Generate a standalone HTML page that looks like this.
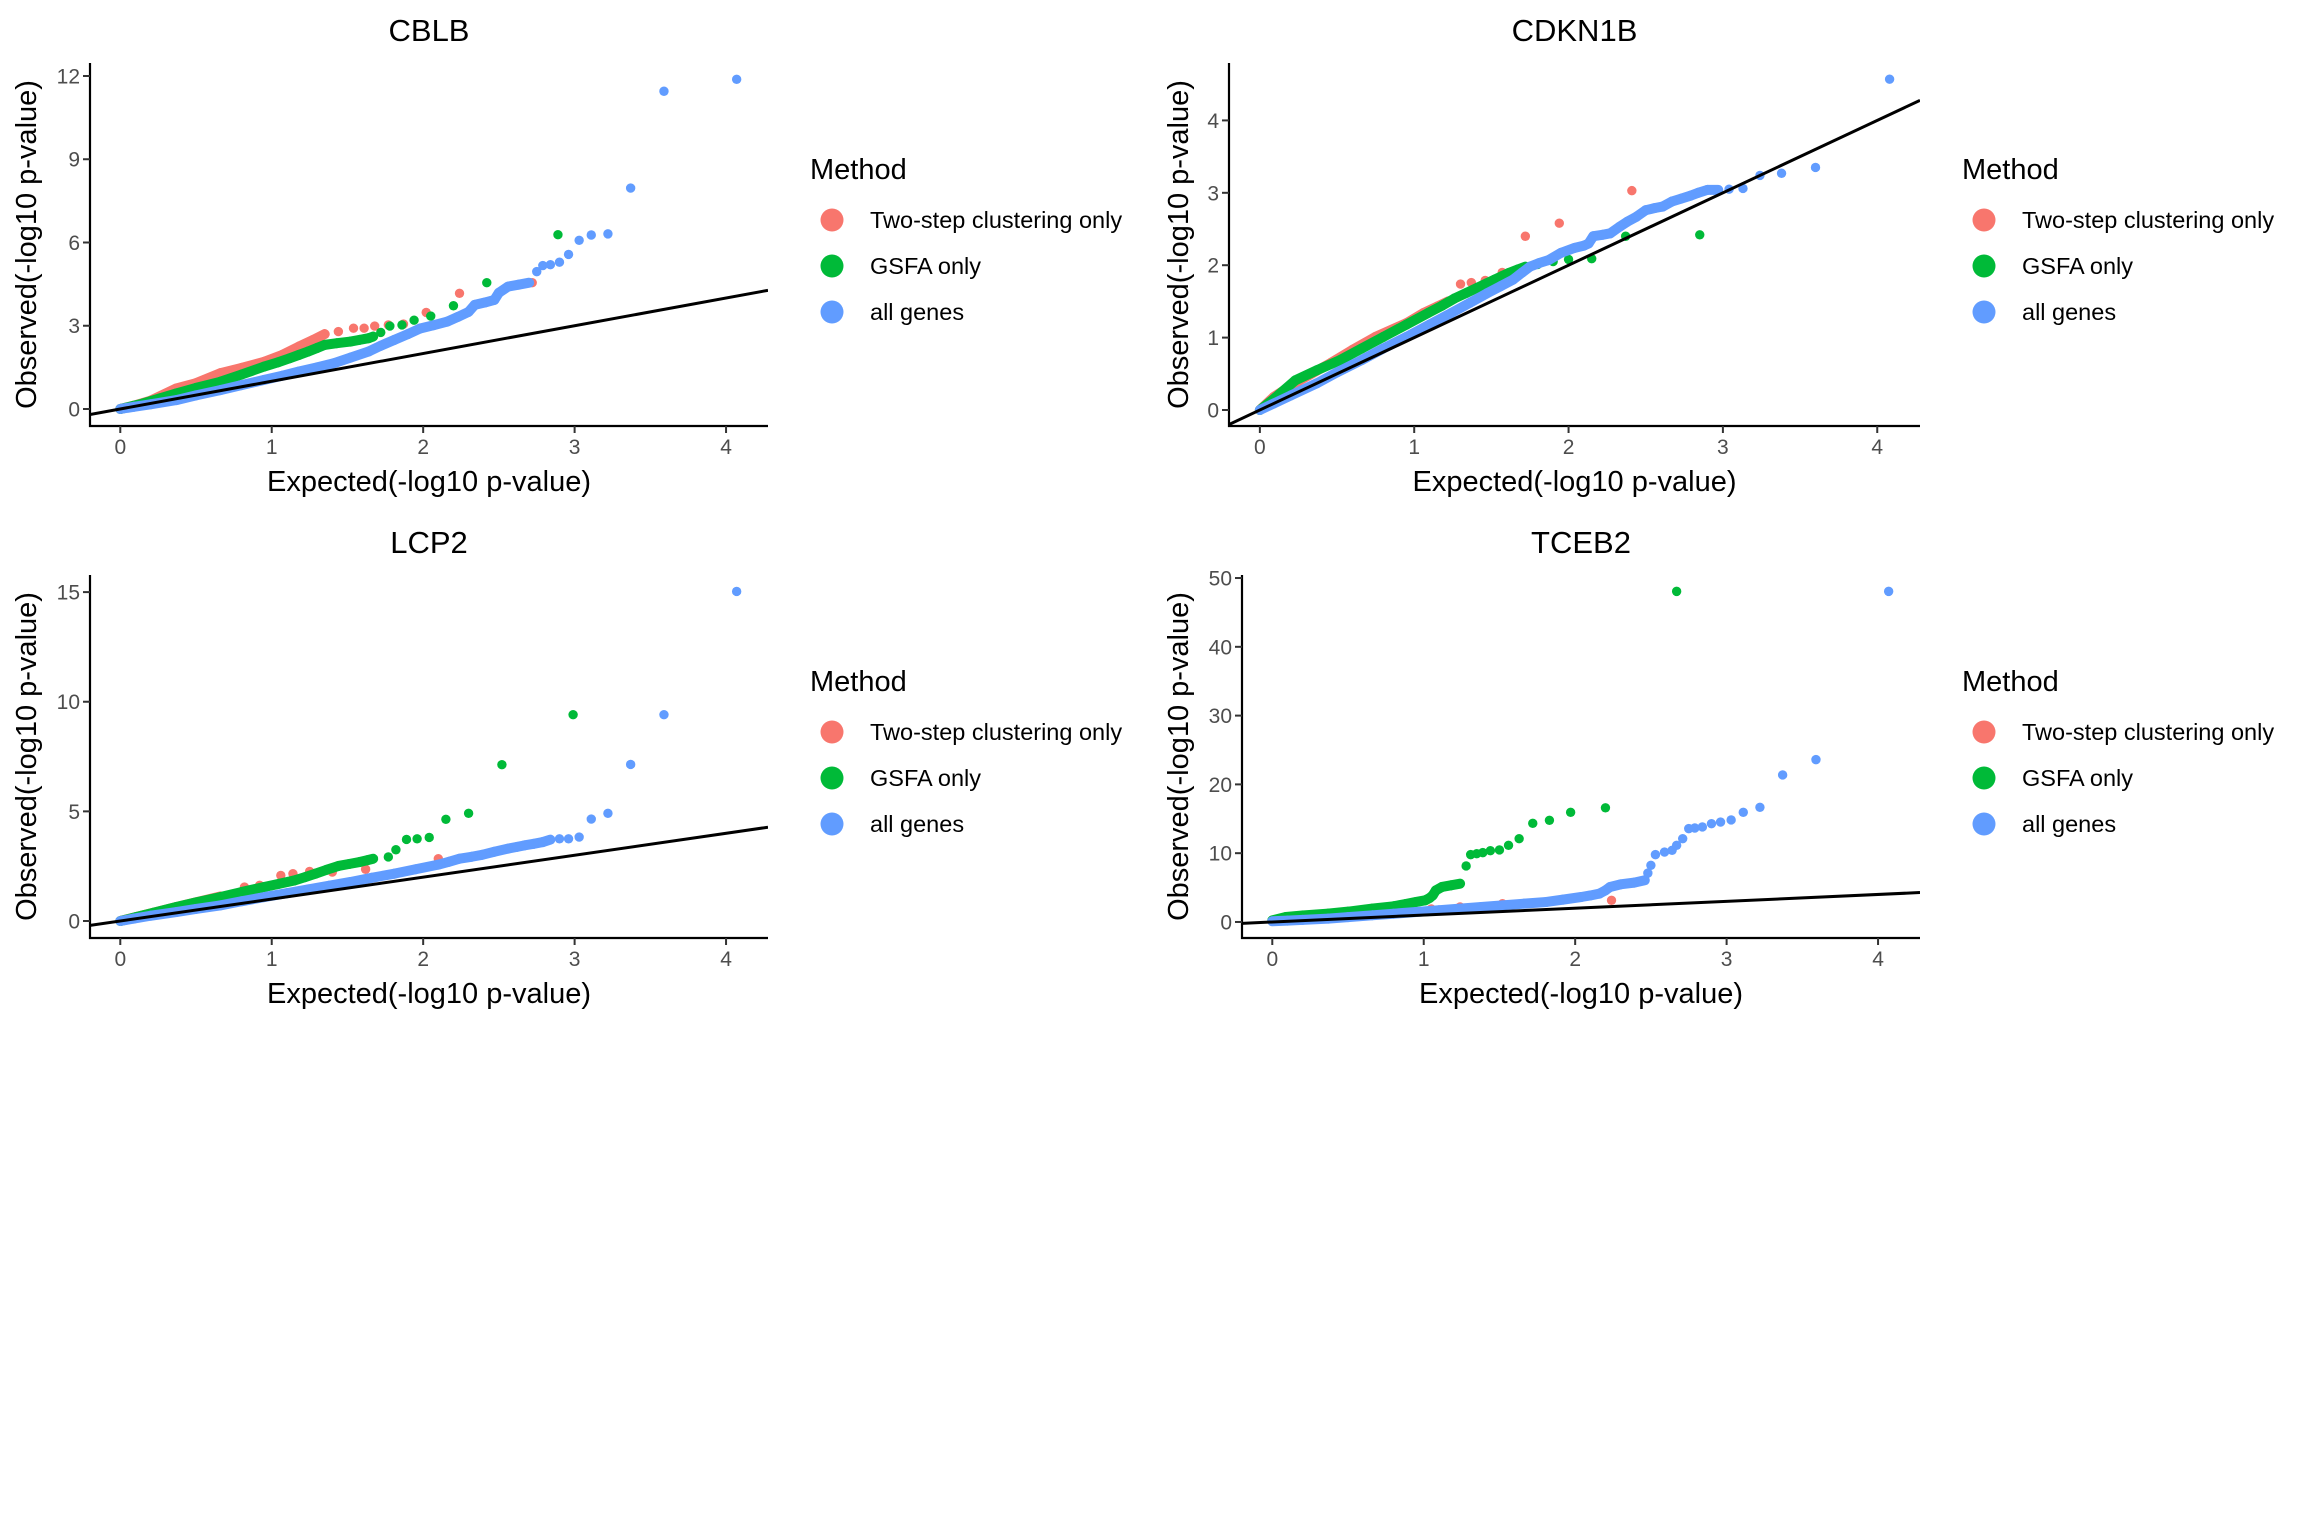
<!DOCTYPE html>
<html><head><meta charset="utf-8">
<style>
html,body{margin:0;padding:0;background:#fff;}
svg{display:block;font-family:"Liberation Sans",Arial,sans-serif;}
</style></head>
<body>
<svg id="chart" width="2304" height="1536" viewBox="0 0 2304 1536" xmlns="http://www.w3.org/2000/svg">
<rect x="0" y="0" width="2304" height="1536" fill="#fff"/>
</svg>
<script>
// ---------- data (x = expected -log10 p, y = observed -log10 p) ----------
const xTicks = [0, 1, 2, 3, 4];
const cblbYTicks = [0, 3, 6, 9, 12];
const cdknYTicks = [0, 1, 2, 3, 4];
const lcp2YTicks = [0, 5, 10, 15];
const tceb2YTicks = [0, 10, 20, 30, 40, 50];
const methodNames = ["Two-step clustering only", "GSFA only", "all genes"];

const cblbRed = [[0,0],[0.09,0.12],[0.2,0.3],[0.37,0.74],[0.5,0.93],[0.66,1.29],[0.8,1.48],[0.95,1.7],[1.07,1.95],[1.18,2.25],[1.27,2.48],[1.35,2.7],[1.44,2.79],[1.54,2.91],[1.61,2.91],[1.68,2.99],[1.77,3.03],[1.87,3.06],[2.02,3.48],[2.24,4.17],[2.72,4.55]];
const cblbGreen = [[0,0],[0.15,0.2],[0.26,0.38],[0.37,0.56],[0.5,0.76],[0.66,0.98],[0.8,1.24],[0.95,1.53],[1.04,1.68],[1.12,1.83],[1.18,1.95],[1.24,2.07],[1.3,2.2],[1.35,2.31],[1.43,2.37],[1.52,2.43],[1.58,2.49],[1.64,2.55],[1.67,2.61],[1.72,2.76],[1.78,2.99],[1.86,3.03],[1.94,3.2],[2.05,3.35],[2.2,3.72],[2.42,4.55],[2.89,6.28]];
const cblbBlue = [[0,0],[0.09,0.08],[0.2,0.17],[0.37,0.32],[0.5,0.49],[0.66,0.68],[0.8,0.86],[0.95,1.05],[1.07,1.2],[1.18,1.35],[1.3,1.5],[1.41,1.65],[1.52,1.85],[1.64,2.07],[1.72,2.28],[1.81,2.49],[1.9,2.7],[1.98,2.9],[2.07,3.02],[2.16,3.15],[2.23,3.32],[2.3,3.5],[2.34,3.75],[2.41,3.84],[2.47,3.93],[2.5,4.19],[2.56,4.41],[2.63,4.48],[2.7,4.55],[2.75,4.95],[2.79,5.17],[2.84,5.2],[2.9,5.29],[2.96,5.57],[3.03,6.08],[3.11,6.27],[3.22,6.31],[3.37,7.96],[3.59,11.45],[4.07,11.88]];

const cdknRed = [[0,0],[0.09,0.18],[0.25,0.4],[0.46,0.65],[0.6,0.83],[0.75,1.01],[0.95,1.2],[1.06,1.34],[1.15,1.43],[1.22,1.5],[1.3,1.74],[1.37,1.76],[1.46,1.79],[1.57,1.9],[1.72,2.4],[1.94,2.58],[2.41,3.03]];
const cdknGreen = [[0,0],[0.1,0.17],[0.23,0.41],[0.37,0.55],[0.52,0.69],[0.66,0.85],[0.8,1.01],[0.95,1.18],[1.09,1.34],[1.18,1.44],[1.26,1.54],[1.34,1.62],[1.41,1.69],[1.47,1.75],[1.52,1.8],[1.57,1.85],[1.61,1.89],[1.67,1.94],[1.72,1.98],[1.8,2.01],[1.9,2.05],[2.0,2.08],[2.15,2.09],[2.37,2.4],[2.85,2.42]];
const cdknBlue = [[0,0],[0.09,0.09],[0.2,0.2],[0.37,0.37],[0.5,0.52],[0.66,0.69],[0.8,0.85],[0.95,1.01],[1.1,1.18],[1.24,1.34],[1.36,1.48],[1.47,1.61],[1.56,1.71],[1.64,1.8],[1.7,1.9],[1.75,1.98],[1.81,2.03],[1.87,2.07],[1.95,2.17],[2.04,2.24],[2.1,2.27],[2.13,2.3],[2.16,2.4],[2.22,2.42],[2.27,2.44],[2.33,2.53],[2.38,2.6],[2.44,2.67],[2.5,2.76],[2.56,2.79],[2.61,2.81],[2.67,2.88],[2.73,2.92],[2.79,2.96],[2.84,3.0],[2.9,3.04],[2.97,3.04],[3.04,3.05],[3.13,3.06],[3.24,3.24],[3.38,3.27],[3.6,3.35],[4.08,4.57]];

const lcp2Red = [[0,0],[0.37,0.64],[0.66,1.12],[0.82,1.55],[0.92,1.63],[1.06,2.08],[1.14,2.16],[1.25,2.26],[1.4,2.23],[1.62,2.36],[2.1,2.84]];
const lcp2Green = [[0,0],[0.1,0.17],[0.22,0.38],[0.37,0.64],[0.5,0.85],[0.66,1.09],[0.8,1.32],[0.95,1.55],[1.05,1.7],[1.15,1.85],[1.22,2.0],[1.29,2.16],[1.36,2.33],[1.44,2.51],[1.51,2.6],[1.58,2.69],[1.63,2.77],[1.67,2.84],[1.77,2.92],[1.82,3.25],[1.89,3.72],[1.96,3.75],[2.04,3.81],[2.15,4.64],[2.3,4.91],[2.52,7.13],[2.99,9.41]];
const lcp2Blue = [[0,0],[0.09,0.11],[0.2,0.24],[0.37,0.41],[0.5,0.55],[0.66,0.71],[0.8,0.9],[0.95,1.09],[1.1,1.27],[1.24,1.44],[1.38,1.61],[1.52,1.78],[1.66,1.97],[1.81,2.16],[1.95,2.36],[2.1,2.57],[2.17,2.7],[2.24,2.84],[2.32,2.93],[2.39,3.02],[2.47,3.16],[2.56,3.3],[2.62,3.38],[2.67,3.45],[2.73,3.52],[2.79,3.6],[2.84,3.71],[2.9,3.75],[2.96,3.75],[3.03,3.83],[3.11,4.65],[3.22,4.91],[3.37,7.14],[3.59,9.41],[4.07,15.03]];

const tceb2Red = [[0.55,1.55],[0.8,1.75],[1.05,1.9],[1.24,2.18],[1.52,2.66],[2.24,3.15]];
const tceb2Green = [[0,0.24],[0.09,0.73],[0.2,0.95],[0.37,1.21],[0.5,1.5],[0.66,1.94],[0.8,2.28],[0.88,2.6],[0.95,2.91],[1.01,3.15],[1.04,3.5],[1.06,3.88],[1.08,4.6],[1.12,5.09],[1.18,5.33],[1.24,5.57],[1.28,8.14],[1.31,9.79],[1.35,9.93],[1.39,10.08],[1.44,10.37],[1.5,10.47],[1.56,11.14],[1.63,12.1],[1.72,14.34],[1.83,14.78],[1.97,15.94],[2.2,16.6],[2.67,48.06]];
const tceb2Blue = [[0,0.1],[0.1,0.2],[0.2,0.3],[0.37,0.48],[0.5,0.7],[0.66,0.97],[0.8,1.2],[0.95,1.45],[1.1,1.7],[1.24,1.94],[1.38,2.18],[1.52,2.42],[1.66,2.66],[1.81,2.91],[1.92,3.25],[2.04,3.63],[2.1,3.85],[2.16,4.12],[2.2,4.6],[2.23,5.09],[2.3,5.47],[2.39,5.72],[2.46,6.06],[2.48,7.1],[2.5,8.24],[2.53,9.79],[2.59,10.17],[2.64,10.42],[2.67,11.14],[2.71,12.11],[2.75,13.57],[2.79,13.66],[2.84,13.81],[2.9,14.29],[2.96,14.53],[3.03,14.83],[3.11,15.94],[3.22,16.67],[3.37,21.37],[3.59,23.6],[4.07,48.06]];

// ---------- rendering ----------
const NS = "http://www.w3.org/2000/svg";
const svg = document.getElementById("chart");
const COLORS = ["#F8766D", "#00BA38", "#619CFF"];
function mk(tag, attrs, parent) {
  const e = document.createElementNS(NS, tag);
  for (const k in attrs) e.setAttribute(k, attrs[k]);
  (parent || svg).appendChild(e);
  return e;
}
// band: x limit up to which the points are dense enough to merge into a band
const panels = [
  {key:"cblb", title:"CBLB", left:90, right:768, top:63, bottom:426, ymin:-0.613, ymax:12.468, yTicks:cblbYTicks, series:[cblbRed, cblbGreen, cblbBlue], band:[1.36, 1.68, 2.71], lx:0, ly:0},
  {key:"cdkn1b", title:"CDKN1B", left:1229, right:1920, top:63, bottom:426, ymin:-0.221, ymax:4.793, yTicks:cdknYTicks, series:[cdknRed, cdknGreen, cdknBlue], band:[1.23, 1.73, 2.98], lx:1152, ly:0},
  {key:"lcp2", title:"LCP2", left:90, right:768, top:575, bottom:938, ymin:-0.775, ymax:15.78, yTicks:lcp2YTicks, series:[lcp2Red, lcp2Green, lcp2Blue], band:[0.67, 1.68, 2.85], lx:0, ly:512},
  {key:"tceb2", title:"TCEB2", left:1242, right:1920, top:575, bottom:938, ymin:-2.33, ymax:50.44, yTicks:tceb2YTicks, series:[tceb2Red, tceb2Green, tceb2Blue], band:[-1, 1.25, 2.47], lx:1152, ly:512}
];
const XMIN = -0.2, XMAX = 4.277;

panels.forEach((p, pi) => {
  const g = mk("g", {});
  
  
  const sx = v => p.left + (v - XMIN) / (XMAX - XMIN) * (p.right - p.left);
  const sy = v => p.bottom - (v - p.ymin) / (p.ymax - p.ymin) * (p.bottom - p.top);
  const cid = "clip" + pi;
  const cp = mk("clipPath", {id: cid}, g);
  mk("rect", {x:p.left, y:p.top, width:p.right - p.left, height:p.bottom - p.top}, cp);

  const title = mk("text", {x:(p.left + p.right) / 2, y:p.top - 22, "text-anchor":"middle", "font-size":31, fill:"#000"}, g);
  title.textContent = p.title;
  
  

  const plot = mk("g", {"clip-path":"url(#" + cid + ")"}, g);
  
  

  p.series.forEach((s, si) => {
    const sg = mk("g", {fill:COLORS[si]}, plot);
    
    
    const pts = s.slice().sort((a, b) => a[0] - b[0]);
    for (let i = 1; i < pts.length; i++) {
      if (pts[i][0] > p.band[si]) break;
      const seg = mk("line", {x1:sx(pts[i-1][0]), y1:sy(pts[i-1][1]), x2:sx(pts[i][0]), y2:sy(pts[i][1]), stroke:COLORS[si], "stroke-width":10, "stroke-linecap":"round"}, sg);
      
      
    }
    pts.forEach(pt => {
      const c = mk("circle", {cx:sx(pt[0]), cy:sy(pt[1]), r:4.7}, sg);
      
      
    });
  });

  const ref = mk("line", {x1:sx(XMIN), y1:sy(XMIN), x2:sx(XMAX), y2:sy(XMAX), stroke:"#000", "stroke-width":3}, plot);
  
  

  const ax = mk("path", {d:"M" + p.left + "," + p.top + "V" + p.bottom + "H" + p.right, stroke:"#000", "stroke-width":2.2, fill:"none"}, g);
  
  

  xTicks.forEach(t => {
    const x = sx(t);
    const tk = mk("line", {x1:x, y1:p.bottom, x2:x, y2:p.bottom + 7, stroke:"#333", "stroke-width":2}, g);
    
    
    const lb = mk("text", {x:x, y:p.bottom + 28, "text-anchor":"middle", "font-size":21, fill:"#4d4d4d"}, g);
    lb.textContent = t;
    
    
  });
  p.yTicks.forEach(t => {
    const y = sy(t);
    const tk = mk("line", {x1:p.left - 7, y1:y, x2:p.left, y2:y, stroke:"#333", "stroke-width":2}, g);
    
    
    const lb = mk("text", {x:p.left - 10, y:y + 7.5, "text-anchor":"end", "font-size":21, fill:"#4d4d4d"}, g);
    lb.textContent = t;
    
    
  });

  const xt = mk("text", {x:(p.left + p.right) / 2, y:p.bottom + 65, "text-anchor":"middle", "font-size":29, fill:"#000"}, g);
  xt.textContent = "Expected(-log10 p-value)";
  
  
  const yc = (p.top + p.bottom) / 2, xc = p.lx + 36;
  const yt = mk("text", {x:xc, y:yc, "text-anchor":"middle", "font-size":29, fill:"#000", transform:"rotate(-90 " + xc + " " + yc + ")"}, g);
  yt.textContent = "Observed(-log10 p-value)";
  
  

  const lg = mk("g", {}, g);
  
  
  const lt = mk("text", {x:p.lx + 810, y:p.ly + 179, "font-size":29, fill:"#000"}, lg);
  lt.textContent = "Method";
  
  
  methodNames.forEach((n, i) => {
    const cy = p.ly + 220 + i * 46;
    const k = mk("circle", {cx:p.lx + 832, cy:cy, r:11.5, fill:COLORS[i]}, lg);
    
    
    const tx = mk("text", {x:p.lx + 870, y:cy + 8, "font-size":23.5, fill:"#000"}, lg);
    tx.textContent = n;
    
    
  });
});
</script>
</body></html>
